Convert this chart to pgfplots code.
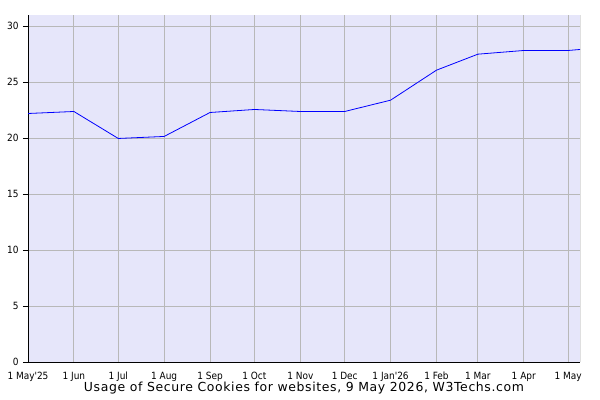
\documentclass[border=0pt]{standalone}
\usepackage{fontspec}
\setmainfont{DejaVu Sans}
\newfontfamily\condfont{DejaVu Sans Condensed}
\newfontfamily\titlefont[LetterSpace=5]{DejaVu Sans}
\usepackage{pgfplots}
\pgfplotsset{compat=1.18}
\definecolor{plotbg}{RGB}{230,230,250}
\definecolor{gridgray}{RGB}{184,184,184}
\begin{document}
\begin{tikzpicture}
\begin{axis}[
  scale only axis, width=552bp, height=347bp,
  xmin=0, xmax=373, ymin=0, ymax=31,
  axis lines*=left, axis line style={-, black, line width=0.8bp},
  axis background/.style={fill=plotbg},
  xtick={0,31,61,92,123,153,184,214,245,276,304,335,365},
  xticklabels={1 May'25,1 Jun,1 Jul,1 Aug,1 Sep,1 Oct,1 Nov,1 Dec,1 Jan'26,1 Feb,1 Mar,1 Apr,1 May},
  ytick={0,5,...,30},
  grid=major, major grid style={gridgray, line width=0.8bp},
  tick align=outside, major tick length=5bp,
  x tick style={draw=none}, y tick style={black, line width=0.8bp},
  tick label style={font=\condfont\fontsize{10}{12}\selectfont},
  xticklabel style={anchor=base, yshift=-12.5bp},
  yticklabel style={xshift=-1bp},
  /pgf/number format/assume math mode=true,
  xlabel={Usage of Secure Cookies for websites, 9 May 2026, W3Techs.com},
  xlabel style={font=\titlefont\fontsize{12.5}{14}\selectfont, at={(axis description cs:0.5,0)}, anchor=base, yshift=-29.5bp},
]
\addplot[blue, line width=0.8bp] coordinates {
  (0,22.2) (31,22.38) (61,19.97) (92,20.15) (123,22.29) (153,22.56)
  (184,22.38) (214,22.38) (245,23.39) (276,26.07) (304,27.5) (335,27.83)
  (365,27.83) (373,27.92)
};
\draw[black, line width=0.8bp] (rel axis cs:1,0) -- (rel axis cs:1,1);
\end{axis}
\pgfresetboundingbox
\path (current axis.south west) +(-28bp,-38bp) (current axis.north east) +(20bp,15bp);
\end{tikzpicture}
\end{document}
